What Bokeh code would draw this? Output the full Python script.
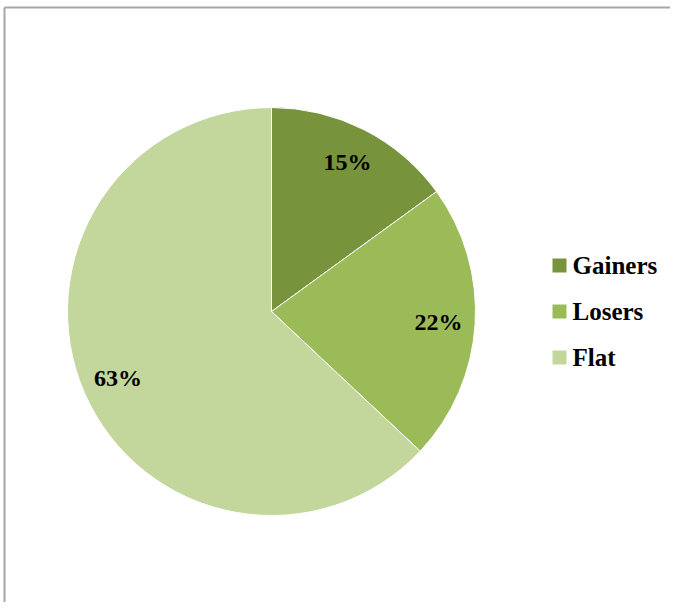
import math
from bokeh.plotting import figure
from bokeh.models import Range1d
from bokeh.core.properties import value
from bokeh.embed import file_html
from bokeh.resources import INLINE

categories = ["Gainers", "Losers", "Flat"]
shares = [15, 22, 63]
colors = ["#77933C", "#9BBB59", "#C3D69B"]

W, H = 670, 602
p = figure(width=W, height=H, output_backend="svg", toolbar_location=None,
           x_range=Range1d(0, W), y_range=Range1d(0, H), min_border=0)
p.axis.visible = False
p.grid.visible = False
p.outline_line_color = None
p.background_fill_color = "white"
p.border_fill_color = "white"

def Y(y_img):
    return H - y_img

# frame edges (top and left)
p.segment(x0=[4, 4], y0=[Y(7), Y(7)], x1=[W, 4], y1=[Y(7), 0],
          line_color="#a6a6a6", line_width=2)

cx, cy, R = 271, Y(311), 204
total = sum(shares)
start = math.pi / 2
starts, ends, lx, ly, labels = [], [], [], [], []
for s in shares:
    sweep = 2 * math.pi * s / total
    end = start - sweep
    starts.append(end)
    ends.append(start)
    mid = (start + end) / 2
    lx.append(cx + 0.82 * R * math.cos(mid))
    ly.append(cy + 0.82 * R * math.sin(mid))
    labels.append(f"{s}%")
    start = end

p.wedge(x=[cx] * 3, y=[cy] * 3, radius=R, start_angle=starts, end_angle=ends,
        fill_color=colors, line_color="white", line_width=1)

p.text(x=lx, y=ly, text=labels, text_align="center", text_baseline="middle",
       text_font=value("Liberation Serif"), text_font_style="bold",
       text_font_size="24px", text_color="#000000")

# legend
leg_x = 552
leg_y = [Y(265), Y(311), Y(357)]
p.rect(x=[leg_x + 7] * 3, y=leg_y, width=14, height=14, fill_color=colors, line_color=None)
p.text(x=[leg_x + 20] * 3, y=leg_y, text=categories, text_align="left", text_baseline="middle",
       text_font=value("Liberation Serif"), text_font_style="bold",
       text_font_size="25px", text_color="#000000")

open("out.html", "w").write(file_html(p, INLINE))
